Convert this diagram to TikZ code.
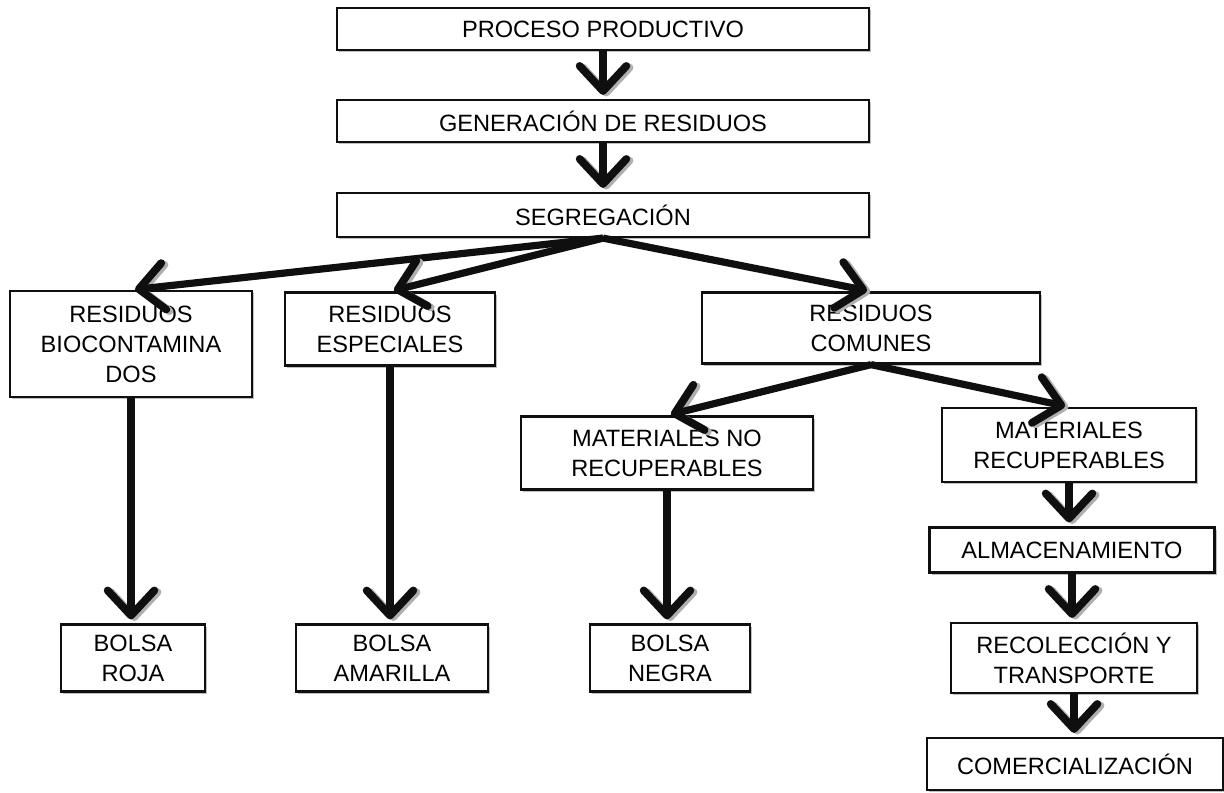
\documentclass[tikz,border=0pt]{standalone}
\usepackage{fontspec}
\setmainfont{Liberation Sans}
\usetikzlibrary{arrows.meta,shadows}
\definecolor{ink}{RGB}{15,15,15}
\definecolor{smoke}{RGB}{175,175,175}
\tikzset{
  >={Straight Barb[length=4.4mm,width=8.2mm,line width=3.9pt,round]},
  box/.style={draw=ink,line width=1.1pt,fill=white,inner sep=0pt,align=center,
    minimum width=#1,font=\fontsize{11.8}{15}\selectfont,
    drop shadow={shadow xshift=1pt,shadow yshift=-1pt,fill=smoke,opacity=0.8}},
  box/.default=50mm,
  flow/.style={->,line width=3.6pt,draw=ink,shorten >=2pt,
    preaction={draw=smoke,transform canvas={shift={(1.6pt,-0.8pt)}}}},
}

\begin{document}
\begin{tikzpicture}[x=0.5pt,y=-0.5pt]
  \useasboundingbox (0,0) rectangle (1224,792);
  % main chain
  \node[box=266pt,minimum height=21pt] (proc) at (603,29) {PROCESO PRODUCTIVO};
  \node[box=266pt,minimum height=21pt] (gen) at (603,121) {GENERACIÓN DE RESIDUOS};
  \node[box=266pt,minimum height=22pt] (seg) at (603,215) {SEGREGACIÓN};
  % types of waste
  \node[box=121pt,minimum height=53pt] (bio) at (131,344) {RESIDUOS\\BIOCONTAMINA\\DOS};
  \node[box=105pt,minimum height=36.5pt] (esp) at (390,329) {RESIDUOS\\ESPECIALES};
  \node[box=169pt,minimum height=35.5pt] (com) at (871,328) {RESIDUOS\\COMUNES};
  \node[box=146pt,minimum height=36.5pt] (norec) at (667,453) {MATERIALES NO\\RECUPERABLES};
  \node[box=127pt,minimum height=37pt] (mr) at (1069,445) {MATERIALES\\RECUPERABLES};
  % recovery line
  \node[box=142.5pt,minimum height=22.5pt] (alm) at (1072,550) {ALMACENAMIENTO};
  \node[box=123pt,minimum height=35pt] (recol) at (1074,658) {RECOLECCIÓN Y\\TRANSPORTE};
  \node[box=148pt,minimum height=26pt] (comer) at (1075,764) {COMERCIALIZACIÓN};
  % bags
  \node[box=72pt,minimum height=33.5pt] (roja) at (133,658) {BOLSA\\ROJA};
  \node[box=96pt,minimum height=33.5pt] (amar) at (392,658) {BOLSA\\AMARILLA};
  \node[box=80pt,minimum height=33.5pt] (negra) at (670,658) {BOLSA\\NEGRA};

  \foreach \a/\b in {proc/gen,gen/seg,bio/roja,esp/amar,norec/negra,mr/alm,alm/recol,recol/comer}
    \draw[flow] (\a.south) -- (\a.south |- \b.north);
  \foreach \b in {bio,esp,com}
    \draw[flow] (seg.south) -- (\b.north);
  \foreach \b in {norec,mr}
    \draw[flow] (com.south) -- (\b.north);
\end{tikzpicture}
\end{document}
